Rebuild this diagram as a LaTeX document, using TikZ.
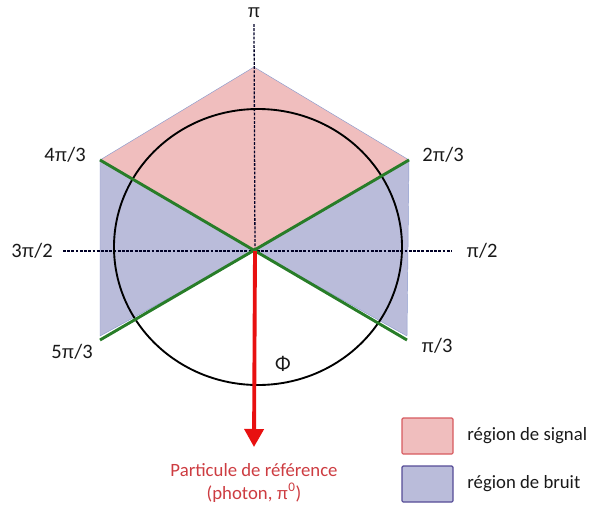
\documentclass[tikz,border=0pt]{standalone}
\usepackage{fontspec}
\setmainfont{Carlito}
\newfontfamily\pifont[Scale=0.9]{Liberation Sans}
\newcommand\uppi{{\pifont π}}
\usetikzlibrary{arrows.meta}
\definecolor{signalpink}{RGB}{240,190,190}
\definecolor{bruitblue}{RGB}{186,188,218}
\definecolor{edgeblue}{RGB}{140,155,205}
\definecolor{cutgreen}{RGB}{40,125,40}
\definecolor{refred}{RGB}{232,16,16}
\definecolor{reftext}{RGB}{205,60,65}
\definecolor{signaledge}{RGB}{215,90,95}
\definecolor{bruitedge}{RGB}{85,75,150}

\begin{document}
\begin{tikzpicture}[x=0.3mm,y=-0.3mm,
    lbl/.style={font=\fontsize{16}{18}\selectfont,text=black!90,inner sep=1pt},
    ang/.style={lbl,font=\fontsize{17.5}{19}\selectfont},
    axis/.style={line width=1.1pt,dash pattern=on 2.4pt off 1.2pt,color=black!85!blue},
    cut/.style={line width=2.5pt,color=cutgreen},
    legbox/.style={minimum width=15.3mm,minimum height=10.8mm,line width=1pt,rounded corners=1pt},
    ref/.style={-{Triangle[width=5.7mm,length=5.4mm]},line width=3.3pt,color=refred}
]
\useasboundingbox (0,0) rectangle (590,509);
% corners of the hexagon
\coordinate (O) at (255,251);
\coordinate (T) at (254,67);
\coordinate (UL) at (100,160);
\coordinate (UR) at (409,160);
\coordinate (LL) at (100,340);
\coordinate (LR) at (407,340);
\coordinate (BL) at (100,336);
\coordinate (BR) at (407,336);
% regions
\fill[signalpink,draw=edgeblue,line width=0.4pt] (UL) -- (T) -- (UR) -- (O) -- cycle;
\fill[bruitblue,draw=edgeblue,line width=0.4pt] (UL) -- (O) -- (BL) -- cycle;
\fill[bruitblue,draw=edgeblue,line width=0.4pt] (UR) -- (O) -- (BR) -- cycle;
% axes
\node[ang] (pi) at (254,13) {\uppi};
\node[ang] (pi32) at (32,251) {3\uppi/2};
\node[ang] (pi2) at (482,251) {\uppi/2};
\coordinate (axT) at (254,24);
\coordinate (axL) at (63,251);
\coordinate (axR) at (452,251);
\draw[axis] (axT) -- (O);
\draw[axis] (axL) -- (axR);
\draw[line width=1.6pt] (258,247) ellipse [x radius=144,y radius=138];
% cuts
\draw[cut] (UL) -- (LR);
\draw[cut] (LL) -- (UR);
\node[ang] (pi43) at (65,155) {4\uppi/3};
\node[ang] (pi23) at (443,155) {2\uppi/3};
\node[ang] (pi53) at (72,352) {5\uppi/3};
\node[ang] (pi13) at (437,346) {\uppi/3};
\node[ang] (phi) at (283,364) {Φ};
% reference particle
\coordinate (tip) at (254,447);
\draw[ref] (O) -- (tip);
\node[lbl,text=reftext,align=center,font=\fontsize{16}{19}\selectfont] (part) at (254,483)
    {Particule de référence\\(photon, \uppi\textsuperscript{0})};
% legend
\node[legbox,fill=signalpink,draw=signaledge] (sig) at (427.5,436) {};
\node[legbox,fill=bruitblue,draw=bruitedge] (bru) at (427.5,484) {};
\node[lbl,anchor=west] (sigtxt) at (466,436) {région de signal};
\node[lbl,anchor=west] (brutxt) at (466,484) {région de bruit};
\end{tikzpicture}
\end{document}
